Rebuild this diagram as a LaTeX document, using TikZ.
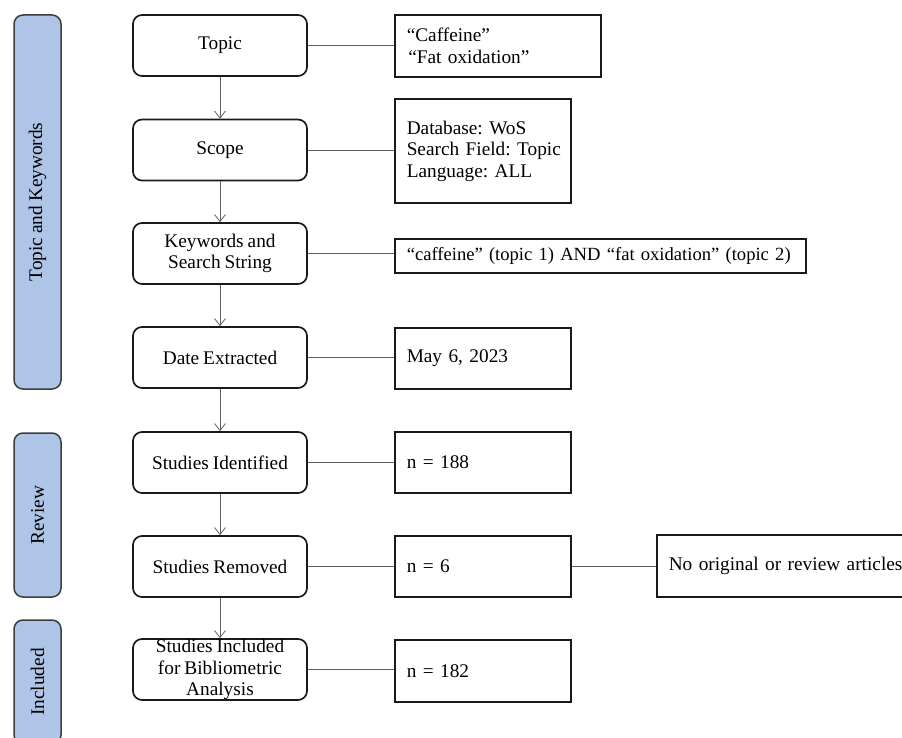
\documentclass[tikz,border=0pt]{standalone}
\usepackage{fontspec}
\setmainfont{Liberation Serif}[WordSpace=0.82]
\usetikzlibrary{arrows.meta}
\definecolor{barblue}{RGB}{174,197,232}
\definecolor{linkgray}{RGB}{95,95,95}
\definecolor{edge}{RGB}{25,25,25}

\begin{document}
\frenchspacing
\begin{tikzpicture}[x=1pt,y=-1pt,
  font=\fontsize{19.3}{21.5}\selectfont,
  stagebox/.style={draw=edge, line width=1.7pt, rounded corners=9pt,
    minimum width=174pt, minimum height=61pt, align=center, inner sep=0pt},
  infobox/.style={draw=edge, line width=1.5pt, align=left,
    inner xsep=12pt, inner ysep=0pt, anchor=west},
  phase/.style={draw=edge!85, fill=barblue, line width=1.5pt,
    rounded corners=9pt, rotate=90, minimum height=47pt, inner sep=0pt},
  flow/.style={draw=linkgray, line width=0.8pt,
    -{Straight Barb[length=7pt,width=11pt,line width=0.8pt]}},
  link/.style={draw=linkgray, line width=0.8pt}]

\useasboundingbox (0,0) rectangle (902,738);
\clip (0,0) rectangle (902,738);

% phase bars on the left
\node[phase, minimum width=374pt] (p1) at (37.5,202) {Topic and Keywords};
\node[phase, minimum width=164pt] (p2) at (37.5,515) {Review};
\node[phase, minimum width=124pt] (p3) at (37.5,682) {Included};

% main column of stages
\node[stagebox] (topic) at (220,45.5) {Topic};
\node[stagebox] (scope) at (220,150) {Scope};
\node[stagebox] (kw)    at (220,253.5) {Keywords and\\Search String};
\node[stagebox] (date)  at (220,357.5) {Date Extracted};
\node[stagebox] (ident) at (220,462.5) {Studies Identified};
\node[stagebox] (remov) at (220,566.5) {Studies Removed};
\node[stagebox] (incl)  at (220,669.5) {Studies Included\\for Bibliometric\\Analysis};

% details on the right
\node[infobox, text width=182pt, minimum height=62pt] (caf) at (394,46)
  {“Caffeine”\\\hspace{1.5pt}“Fat oxidation”};
\node[infobox, text width=152pt, minimum height=104pt] (scr) at (394,151)
  {\mbox{Database: WoS}\\\mbox{Search Field: Topic}\\\mbox{Language: ALL}};
\node[infobox, text width=387pt, minimum height=34pt,
  font=\fontsize{18.6}{21.5}\selectfont] (kwr) at (394,256)
  {\mbox{“caffeine” (topic 1) AND “fat oxidation” (topic 2)}};
\node[infobox, text width=152pt, minimum height=61pt] (dater) at (394,358.5)
  {May 6, 2023};
\node[infobox, text width=152pt, minimum height=61pt] (n188) at (394,462.5)
  {n = 188};
\node[infobox, text width=152pt, minimum height=61pt] (n6) at (394,566.5)
  {n = 6};
\node[infobox, text width=152pt, minimum height=62pt] (n182) at (394,671)
  {n = 182};
\node[infobox, text width=228pt, minimum height=62pt] (noart) at (656,566)
  {\mbox{No original or review articles}};

% vertical flow
\draw[flow] (topic) -- (scope);
\draw[flow] (scope) -- (kw);
\draw[flow] (kw) -- (date);
\draw[flow] (date) -- (ident);
\draw[flow] (ident) -- (remov);
\draw[flow] (remov) -- (incl);

% horizontal links
\draw[link] (topic.east) -- (topic.east -| caf.west);
\draw[link] (scope.east) -- (scope.east -| scr.west);
\draw[link] (kw.east) -- (kw.east -| kwr.west);
\draw[link] (date.east) -- (date.east -| dater.west);
\draw[link] (ident.east) -- (ident.east -| n188.west);
\draw[link] (remov.east) -- (remov.east -| n6.west);
\draw[link] (incl.east) -- (incl.east -| n182.west);
\draw[link] (n6.east) -- (n6.east -| noart.west);
\end{tikzpicture}
\end{document}
